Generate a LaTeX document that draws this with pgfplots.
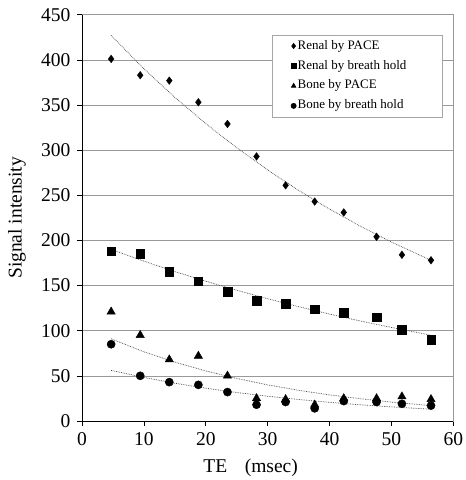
\documentclass[border=0pt]{standalone}
\usepackage{pgfplots}
\pgfplotsset{compat=1.18}
\usepackage{fontspec}
\setmainfont{Liberation Serif}
\begin{document}
\fontsize{19.5}{23}\selectfont
\begin{tikzpicture}
\begin{axis}[
  name=ax,
  scale only axis,
  width=371pt, height=406pt,
  xmin=0, xmax=60, ymin=0, ymax=450,
  xtick={0,10,20,30,40,50,60}, ytick={0,50,100,150,200,250,300,350,400,450},
  xticklabels={0,10,20,30,40,50,60},
  yticklabels={0,50,100,150,200,250,300,350,400,450},
  tick align=outside, xtick pos=bottom, ytick pos=left,
  major tick length=5pt,
  tick style={black, line width=0.6pt},
  ymajorgrids, grid style={gray!80, line width=0.6pt},
  axis line style={gray!80, line width=0.8pt},
  ticklabel style={font=\fontsize{19.5}{23}\selectfont},
  xlabel={TE\hspace{0.9em}(msec)},
  ylabel={Signal intensity},
  label style={font=\fontsize{19.5}{23}\selectfont},
  ylabel style={yshift=2pt},
  xlabel style={xshift=-17pt, yshift=0pt},
  legend style={at={(0.9704,0.9507)}, anchor=north east, draw=gray!70, fill=white,
    font=\fontsize{13}{15}\selectfont, row sep=6pt, inner xsep=19pt, inner ysep=4pt,
    line width=0.6pt, nodes={inner xsep=1.5pt, inner ysep=1pt}},
  legend cell align=left,
  legend image code/.code={\draw[#1, mark size=2.6pt] plot coordinates {(0pt,0pt)};},
]
\addplot[only marks, mark=diamond*, mark size=3.8pt, black] coordinates {
(4.7,401) (9.4,383) (14.1,377) (18.8,353) (23.5,329) (28.2,293) (32.9,261) (37.6,243) (42.3,231) (47.6,204) (51.7,184) (56.4,178)};
\addlegendentry{Renal by PACE}
\addplot[only marks, mark=square*, mark size=4.3pt, black] coordinates {
(4.7,188) (9.4,185) (14.1,165) (18.8,155) (23.5,143) (28.2,133) (32.9,130) (37.6,124) (42.3,120) (47.6,115) (51.7,101) (56.4,90)};
\addlegendentry{Renal by breath hold\hspace*{15pt}}
\addplot[only marks, mark=triangle*, mark size=4.8pt, black] coordinates {
(4.7,121) (9.4,95) (14.1,68) (18.8,72) (23.5,50) (28.2,25) (32.9,24) (37.6,18) (42.3,25) (47.6,25) (51.7,27) (56.4,24)};
\addlegendentry{Bone by PACE}
\addplot[only marks, mark=*, mark size=4.1pt, black] coordinates {
(4.7,85) (9.4,50) (14.1,43) (18.8,40) (23.5,32) (28.2,18) (32.9,21) (37.6,14) (42.3,22) (47.6,21) (51.7,19) (56.4,17)};
\addlegendentry{Bone by breath hold}
\addplot[densely dotted, black!75, line width=0.7pt, forget plot] coordinates {
(4.7,427) (10,390) (15,358.4) (20,329.3) (25,302.6) (30,278) (35,255.4) (40,234.7) (45,215.7) (50,198.2) (56.4,178)};
\addplot[densely dotted, black!75, line width=0.7pt, forget plot] coordinates {
(4.7,190) (10,177) (15,165.5) (20,154.8) (25,144.8) (30,135.4) (35,126.6) (40,118.4) (45,110.7) (50,103.6) (56.4,95)};
\addplot[densely dotted, black!75, line width=0.7pt, forget plot] coordinates {
(4.7,91) (10,76.6) (15,65.2) (20,55.4) (25,47.1) (30,40.0) (35,34.0) (40,28.9) (45,24.6) (50,20.9) (56.4,17)};
\addplot[densely dotted, black!75, line width=0.7pt, forget plot] coordinates {
(4.7,56) (10,48.2) (15,41.8) (20,36.3) (25,31.5) (30,27.4) (35,23.8) (40,20.6) (45,17.9) (50,15.6) (56.4,13)};
\end{axis}
\draw[black, line width=0.8pt] (ax.north west) -- (ax.south west) -- (ax.south east);
\pgfresetboundingbox
\path[use as bounding box] ([shift={(-82pt,-59pt)}]ax.south west) rectangle ([shift={(12pt,14.7pt)}]ax.north east);
\end{tikzpicture}
\end{document}
